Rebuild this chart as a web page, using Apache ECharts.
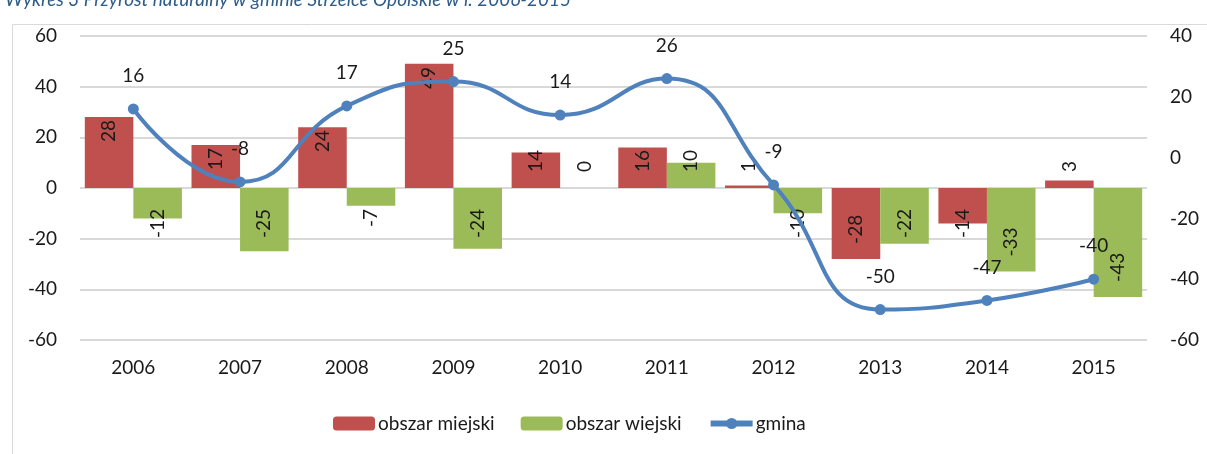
<!DOCTYPE html>
<html>
<head>
<meta charset="utf-8">
<script src="https://cdn.jsdelivr.net/npm/echarts@6/dist/echarts.min.js"></script>
<style>
  html, body { margin: 0; padding: 0; background: #fff; }
  #chart { width: 1207px; height: 454px; }
</style>
</head>
<body>
<div id="chart"></div>
<script>
const years = ["2006", "2007", "2008", "2009", "2010", "2011", "2012", "2013", "2014", "2015"];
const miejski = [28, 17, 24, 49, 14, 16, 1, -28, -14, 3];
const wiejski = [-12, -25, -7, -24, 0, 10, -10, -22, -33, -43];
const gmina = [16, -8, 17, 25, 14, 26, -9, -50, -47, -40];
const leftTicks = { min: -60, max: 60, interval: 20 };
const rightTicks = { min: -60, max: 40, interval: 20 };

const font = "Lato, 'Open Sans', sans-serif";
const fs = 19;
const txt = "#1a1a1a";
const pxPerUnit = 304 / 120; // left axis scale, used only to keep labels clear of the zero line

// Excel-like "inside end" labels that get pushed off the zero line on short bars
function barItem(v) {
  const len = String(v).length * 11;
  if (v >= 0) {
    return { value: v, label: { position: "insideTop", align: "right", distance: Math.min(3, v * pxPerUnit - 16 - len) } };
  }
  return { value: v, label: { position: "insideBottom", align: "left", distance: Math.min(15, -v * pxPerUnit - 17 - len) } };
}

const chart = echarts.init(document.getElementById("chart"));

const barLabel = {
  show: true,
  rotate: 90,
  verticalAlign: "middle",
  color: txt,
  fontSize: fs,
  fontFamily: font
};

const option = {
  animation: false,
  title: {
    text: "Wykres 3 Przyrost naturalny w gminie Strzelce Opolskie w l. 2006-2015",
    left: 0,
    top: -15,
    textStyle: { color: "#2E5C8A", fontStyle: "italic", fontWeight: "normal", fontSize: 19, fontFamily: font }
  },
  graphic: [{
    type: "rect",
    shape: { x: 12.5, y: 24.5, width: 1300, height: 500 },
    style: { fill: null, stroke: "#D9D9D9", lineWidth: 1 },
    silent: true
  }],
  legend: {
    bottom: 16,
    left: 328,
    itemWidth: 42,
    itemHeight: 14,
    itemGap: 26,
    textStyle: { fontSize: fs, color: txt, fontFamily: font, padding: [0, 0, 0, -2] },
    data: [
      { name: "obszar miejski" },
      { name: "obszar wiejski" },
      { name: "gmina", lineStyle: { width: 6 }, itemStyle: { borderWidth: 0 } }
    ]
  },
  grid: { left: 80, right: 60, top: 36, bottom: 114 },
  xAxis: {
    type: "category",
    data: years,
    axisLine: { show: false, onZero: false },
    axisTick: { show: false },
    axisLabel: { margin: 18, fontSize: fs, color: txt, fontFamily: font }
  },
  yAxis: [
    {
      type: "value",
      min: leftTicks.min, max: leftTicks.max, interval: leftTicks.interval,
      axisLine: { show: false },
      axisTick: { show: false },
      splitLine: { lineStyle: { color: "#D9D9D9", width: 2 } },
      axisLabel: { margin: 23, fontSize: fs, color: txt, fontFamily: font }
    },
    {
      type: "value",
      min: rightTicks.min, max: rightTicks.max, interval: rightTicks.interval,
      axisLine: { show: false },
      axisTick: { show: false },
      splitLine: { show: false },
      axisLabel: { margin: 23, fontSize: fs, color: txt, fontFamily: font }
    }
  ],
  series: [
    {
      name: "obszar miejski",
      type: "bar",
      barGap: "0%",
      barCategoryGap: "9%",
      itemStyle: { color: "#C0504D" },
      label: barLabel,
      data: miejski.map(barItem)
    },
    {
      name: "obszar wiejski",
      type: "bar",
      barGap: "0%",
      barCategoryGap: "9%",
      itemStyle: { color: "#9BBB59" },
      label: barLabel,
      data: wiejski.map(barItem)
    },
    {
      name: "gmina",
      type: "line",
      yAxisIndex: 1,
      smooth: 0.5,
      symbol: "circle",
      symbolSize: 11,
      lineStyle: { color: "#4F81BD", width: 4 },
      itemStyle: { color: "#4F81BD" },
      label: { show: true, position: "top", distance: 18, fontSize: fs, color: txt, fontFamily: font },
      data: gmina,
      z: 5
    }
  ]
};

chart.setOption(option);
</script>
</body>
</html>
